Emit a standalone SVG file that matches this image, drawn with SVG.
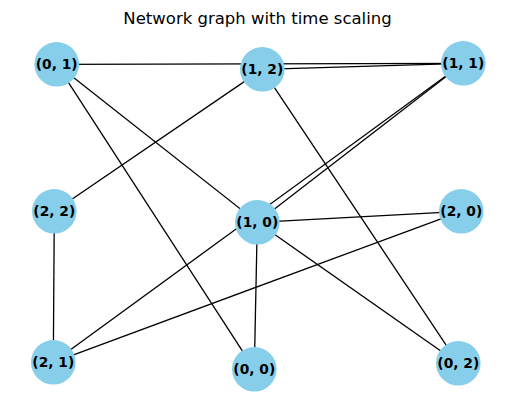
<svg xmlns="http://www.w3.org/2000/svg" width="515" height="411" viewBox="0 0 515 411">
<style>
.e{stroke:#000;stroke-width:1.3;fill:none}
.n circle{fill:#87CEEB}
.n text{font-family:"DejaVu Sans",sans-serif;font-weight:bold;font-size:13.8px;text-anchor:middle;dominant-baseline:central;fill:#000}
.t{font-family:"DejaVu Sans",sans-serif;font-size:16.5px;text-anchor:middle;fill:#000}
</style>
<rect width="515" height="411" fill="#fff"/>
<text class="t" x="257.5" y="24">Network graph with time scaling</text>
<g id="edges" class="e">
<line x1="56.7" y1="64.3" x2="463.3" y2="63.3"/>
<line x1="262.3" y1="69.3" x2="463.3" y2="63.3"/>
<line x1="56.7" y1="64.3" x2="257.3" y2="222.3"/>
<line x1="56.7" y1="64.3" x2="254.3" y2="369.3"/>
<line x1="262.3" y1="69.3" x2="54.3" y2="211.3"/>
<line x1="262.3" y1="69.3" x2="458.3" y2="363.3"/>
<line x1="463.3" y1="63.3" x2="257.3" y2="222.3"/>
<line x1="463.3" y1="63.3" x2="53.3" y2="362.3"/>
<line x1="257.3" y1="222.3" x2="461.3" y2="211.3"/>
<line x1="257.3" y1="222.3" x2="254.3" y2="369.3"/>
<line x1="257.3" y1="222.3" x2="458.3" y2="363.3"/>
<line x1="461.3" y1="211.3" x2="53.3" y2="362.3"/>
<line x1="54.3" y1="211.3" x2="53.3" y2="362.3"/>
</g>
<g id="n01" class="n"><circle cx="56.7" cy="64.3" r="22.3"/><text x="56.7" y="64.3">(0, 1)</text></g>
<g id="n12" class="n"><circle cx="262.3" cy="69.3" r="22.3"/><text x="262.3" y="69.3">(1, 2)</text></g>
<g id="n11" class="n"><circle cx="463.3" cy="63.3" r="22.3"/><text x="463.3" y="63.3">(1, 1)</text></g>
<g id="n22" class="n"><circle cx="54.3" cy="211.3" r="22.3"/><text x="54.3" y="211.3">(2, 2)</text></g>
<g id="n10" class="n"><circle cx="257.3" cy="222.3" r="22.3"/><text x="257.3" y="222.3">(1, 0)</text></g>
<g id="n20" class="n"><circle cx="461.3" cy="211.3" r="22.3"/><text x="461.3" y="211.3">(2, 0)</text></g>
<g id="n21" class="n"><circle cx="53.3" cy="362.3" r="22.3"/><text x="53.3" y="362.3">(2, 1)</text></g>
<g id="n00" class="n"><circle cx="254.3" cy="369.3" r="22.3"/><text x="254.3" y="369.3">(0, 0)</text></g>
<g id="n02" class="n"><circle cx="458.3" cy="363.3" r="22.3"/><text x="458.3" y="363.3">(0, 2)</text></g>
</svg>
